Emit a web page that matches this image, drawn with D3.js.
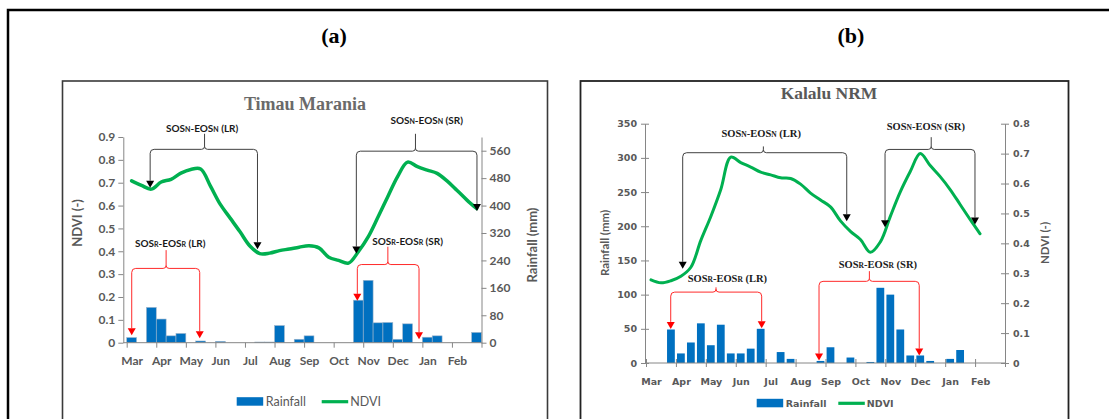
<!DOCTYPE html>
<html>
<head>
<meta charset="utf-8">
<script src="https://cdn.jsdelivr.net/npm/d3@7"></script>
<style>
  body { margin: 0; background: #fff; }
  svg { display: block; }
</style>
</head>
<body>
<svg id="chart" width="1109" height="419"></svg>
<script>
"use strict";

/* ── Data ─────────────────────────────────────────────── */
const months = ["Mar", "Apr", "May", "Jun", "Jul", "Aug", "Sep", "Oct", "Nov", "Dec", "Jan", "Feb"];

// dekadal values (3 per month, Mar..Feb)
const rainTimau = [15, 0, 103, 69, 20, 27, 0, 5, 0, 4, 0, 0,
                   0, 2, 2, 50, 0, 10, 20, 0, 0, 0, 0, 124,
                   182, 58, 59, 10, 55, 0, 16, 20, 0, 0, 0, 30];
const ndviTimau = [0.708, 0.688, 0.672, 0.703, 0.715, 0.742, 0.758, 0.76, 0.685, 0.605, 0.545, 0.485,
                   0.423, 0.39, 0.392, 0.403, 0.41, 0.418, 0.424, 0.415, 0.374, 0.36, 0.348, 0.398,
                   0.463, 0.55, 0.64, 0.728, 0.79, 0.77, 0.755, 0.741, 0.708, 0.667, 0.625, 0.587];

const rainKalalu = [0, 0, 49, 14, 30, 58, 26, 56, 14, 14, 21, 50,
                    0, 16, 6, 0, 0, 3, 23, 0, 8, 0, 1.5, 110,
                    100, 49, 11, 11, 3, 0, 6, 19, 0, 0, 0, 0];
const ndviKalalu = [0.278, 0.268, 0.275, 0.29, 0.32, 0.41, 0.49, 0.58, 0.688, 0.67, 0.655, 0.638,
                    0.629, 0.619, 0.617, 0.598, 0.568, 0.545, 0.522, 0.475, 0.44, 0.413, 0.37, 0.405,
                    0.49, 0.572, 0.64, 0.7, 0.66, 0.623, 0.58, 0.53, 0.48, 0.432];

const ndviTicksTimau = [0, 0.1, 0.2, 0.3, 0.4, 0.5, 0.6, 0.7, 0.8, 0.9];
const rainTicksTimau = [0, 80, 160, 240, 320, 400, 480, 560];
const rainTicksKalalu = [0, 50, 100, 150, 200, 250, 300, 350];
const ndviTicksKalalu = [0, 0.1, 0.2, 0.3, 0.4, 0.5, 0.6, 0.7, 0.8];

// season brackets: dekad positions (0..36) and NDVI levels
const bracketsTimau = [
  { sub: "N", season: "LR", red: false, from: 2.38, to: 13.27, mid: 7.9, level: 0.846, top: 0.914, labelX: 7.65, labelY: 0.936, tipFrom: 0.678, tipTo: 0.409 },
  { sub: "N", season: "SR", red: false, from: 23.3, to: 35.54, mid: 29.3, level: 0.838, top: 0.914, labelX: 30.44, labelY: 0.972, tipFrom: 0.39, tipTo: 0.576 },
  { sub: "R", season: "LR", red: true, from: 0.51, to: 7.41, mid: 4.0, level: 0.325, top: 0.405, labelX: 4.42, labelY: 0.434, tipFrom: 0.033, tipTo: 0.019 },
  { sub: "R", season: "SR", red: true, from: 23.4, to: 29.66, mid: 26.5, level: 0.342, top: 0.42, labelX: 28.5, labelY: 0.444, tipFrom: 0.183, tipTo: 0.015 }
];
const bracketsKalalu = [
  { sub: "N", season: "LR", red: false, from: 3.68, to: 20.13, mid: 11.77, level: 0.703, top: 0.724, labelX: 11.55, labelY: 0.767, tipFrom: 0.315, tipTo: 0.474 },
  { sub: "N", season: "SR", red: false, from: 23.97, to: 32.99, mid: 28.6, level: 0.714, top: 0.755, labelX: 28.06, labelY: 0.791, tipFrom: 0.454, tipTo: 0.463 },
  { sub: "R", season: "LR", red: true, from: 2.48, to: 11.6, mid: 7.02, level: 0.237, top: 0.253, labelX: 8.16, labelY: 0.282, tipFrom: 0.114, tipTo: 0.116 },
  { sub: "R", season: "SR", red: true, from: 17.35, to: 27.4, mid: 22.4, level: 0.273, top: 0.307, labelX: 23.25, labelY: 0.329, tipFrom: 0.008, tipTo: 0.025 }
];

/* ── Styles ───────────────────────────────────────────── */
const GREY = "#595959";
const AXIS = "#868686";
const BLUE = "#0070c0";
const GREEN = "#00b050";
const RED = "#ff2a2a";

const svg = d3.select("#chart");

/* ── Frame + panel letters ────────────────────────────── */
svg.append("rect")
  .attr("x", 8).attr("y", 10).attr("width", 1140).attr("height", 450)
  .attr("fill", "none").attr("stroke", "#000").attr("stroke-width", 2.5);

[["(a)", 334], ["(b)", 851]].forEach(([t, cx]) => {
  svg.append("text")
    .attr("x", cx).attr("y", 43)
    .attr("text-anchor", "middle")
    .attr("font-family", "Liberation Serif, serif")
    .attr("font-weight", "bold").attr("font-size", 22)
    .text(t);
});

svg.append("rect").attr("x", 62.5).attr("y", 81).attr("width", 485).attr("height", 380)
  .attr("fill", "none").attr("stroke", "#3a3a3a").attr("stroke-width", 1.6);
svg.append("rect").attr("x", 580.5).attr("y", 81).attr("width", 488).attr("height", 380)
  .attr("fill", "none").attr("stroke", "#222").attr("stroke-width", 1.8);

/* ── Panel drawing ────────────────────────────────────── */
function drawPanel(p) {
  const g = svg.append("g");

  const x = d3.scaleLinear().domain([0, 36]).range([p.x0, p.x1]);
  const band = d3.scaleBand().domain(d3.range(36)).range([p.x0, p.x1])
    .paddingInner(p.barPad).paddingOuter(p.barPad / 2);
  const yRain = d3.scaleLinear().domain([0, p.rainMax]).range([p.yBottom, p.yTop]);
  const yNdvi = d3.scaleLinear().domain([0, p.ndviMax]).range([p.yBottom, p.yTop]);

  const leftScale = p.leftIsNdvi ? yNdvi : yRain;
  const rightScale = p.leftIsNdvi ? yRain : yNdvi;

  /* Title */
  g.append("text")
    .attr("x", p.titleX).attr("y", p.titleY)
    .attr("text-anchor", "middle")
    .attr("font-family", "Liberation Serif, serif")
    .attr("font-weight", "bold").attr("font-size", p.titleSize)
    .attr("fill", p.titleColor)
    .text(p.title);

  /* Bars */
  g.append("g").selectAll("rect")
    .data(p.rain)
    .join("rect")
    .attr("x", (d, i) => band(i))
    .attr("width", band.bandwidth())
    .attr("y", (d) => yRain(d))
    .attr("height", (d) => p.yBottom - yRain(d))
    .attr("fill", BLUE)
    .attr("stroke", p.barStroke)
    .attr("stroke-width", p.barStroke === "none" ? 0 : 0.6);

  /* Axes */
  const styleAxis = (sel, font) => {
    sel.select(".domain").attr("stroke", AXIS);
    sel.selectAll(".tick line").attr("stroke", AXIS);
    sel.selectAll(".tick text")
      .attr("fill", GREY)
      .attr("font-family", font.family)
      .attr("font-weight", font.weight)
      .attr("font-size", font.size);
  };

  const leftAx = g.append("g")
    .attr("transform", `translate(${p.axisLeftX},0)`)
    .call(d3.axisLeft(leftScale).tickValues(p.leftTicks).tickFormat(p.leftFmt)
      .tickSizeInner(p.tick).tickSizeOuter(0).tickPadding(p.tickPad));
  styleAxis(leftAx, p.tickFont);

  const rightAx = g.append("g")
    .attr("transform", `translate(${p.x1},0)`)
    .call(d3.axisRight(rightScale).tickValues(p.rightTicks).tickFormat(p.rightFmt)
      .tickSizeInner(p.tick).tickSizeOuter(0).tickPadding(p.tickPad));
  styleAxis(rightAx, p.tickFont);

  // month boundary ticks
  const bottomAx = g.append("g")
    .attr("transform", `translate(0,${p.yBottom})`)
    .call(d3.axisBottom(x).tickValues(d3.range(0, 37, 3)).tickFormat("")
      .tickSizeInner(p.tick).tickSizeOuter(0));
  bottomAx.select(".domain").remove();
  bottomAx.selectAll(".tick line").attr("stroke", AXIS);

  // month labels at first dekad of each month
  const labelAx = g.append("g")
    .attr("transform", `translate(0,${p.yBottom})`)
    .call(d3.axisBottom(x).tickValues(months.map((m, i) => i * 3 + 0.5))
      .tickFormat((d, i) => months[i]).tickSize(0).tickPadding(p.monthPad));
  labelAx.select(".domain").remove();
  styleAxis(labelAx, p.tickFont);

  if (p.crossTicks) {
    leftAx.selectAll(".tick line").attr("x1", p.tick);
    rightAx.selectAll(".tick line").attr("x1", -p.tick);
    bottomAx.selectAll(".tick line").attr("y1", -p.tick);
  }

  g.append("line")
    .attr("x1", p.axisLeftX).attr("x2", p.x1)
    .attr("y1", p.yBottom).attr("y2", p.yBottom)
    .attr("stroke", AXIS);

  /* Axis titles */
  const axisTitle = (cx, cy, text) => g.append("text")
    .attr("transform", `translate(${cx},${cy}) rotate(-90)`)
    .attr("text-anchor", "middle").attr("dy", "0.35em")
    .attr("font-family", p.axisFont.family)
    .attr("font-weight", p.axisFont.weight)
    .attr("font-size", p.axisFont.size)
    .attr("fill", GREY)
    .text(text);
  axisTitle(p.leftTitleX, p.leftTitleY, p.leftTitle);
  axisTitle(p.rightTitleX, p.rightTitleY, p.rightTitle);

  /* NDVI line */
  const line = d3.line()
    .x((d, i) => x(i + 0.5))
    .y((d) => yNdvi(d))
    .curve(d3.curveCatmullRom.alpha(0.5));
  g.append("path")
    .datum(p.ndvi)
    .attr("d", line)
    .attr("fill", "none")
    .attr("stroke", GREEN)
    .attr("stroke-width", p.lineWidth)
    .attr("stroke-linejoin", "round")
    .attr("stroke-linecap", "round");

  /* Brackets */
  p.brackets.forEach((b) => drawBracket(g, b, x, yNdvi, p.annFont));

  /* Legend */
  const L = p.legend;
  g.append("rect")
    .attr("x", L.x).attr("y", L.y - 4.5).attr("width", 26.5).attr("height", 8.5)
    .attr("fill", BLUE);
  g.append("text")
    .attr("x", L.x + 29).attr("y", L.y).attr("dy", "0.35em")
    .attr("font-family", L.font.family).attr("font-weight", L.font.weight)
    .attr("font-size", L.font.size).attr("fill", GREY)
    .text("Rainfall");
  g.append("line")
    .attr("x1", L.lineX).attr("x2", L.lineX + 26.5)
    .attr("y1", L.y).attr("y2", L.y)
    .attr("stroke", GREEN).attr("stroke-width", 3.2);
  g.append("text")
    .attr("x", L.lineX + 28.5).attr("y", L.y).attr("dy", "0.35em")
    .attr("font-family", L.font.family).attr("font-weight", L.font.weight)
    .attr("font-size", L.font.size).attr("fill", GREY)
    .text("NDVI");
}

function drawBracket(g, b, x, y, font) {
  const col = b.red ? RED : "#404040";
  const xL = x(b.from), xR = x(b.to), xM = x(b.mid);
  const yH = y(b.level), yT = y(b.top);
  const tL = y(b.tipFrom), tR = y(b.tipTo);
  const r = 4, ah = 7, aw = 4;

  const d = [
    `M${xL},${tL - ah}`,
    `L${xL},${yH + r}`,
    `Q${xL},${yH} ${xL + r},${yH}`,
    `L${xM - 3},${yH}`,
    `Q${xM},${yH} ${xM},${yH - 3}`,
    `L${xM},${yT}`,
    `M${xM},${yH - 3}`,
    `Q${xM},${yH} ${xM + 3},${yH}`,
    `L${xR - r},${yH}`,
    `Q${xR},${yH} ${xR},${yH + r}`,
    `L${xR},${tR - ah}`
  ].join(" ");

  g.append("path").attr("d", d)
    .attr("fill", "none").attr("stroke", col).attr("stroke-width", 1);

  [[xL, tL], [xR, tR]].forEach(([ax, ay]) => {
    g.append("path")
      .attr("d", `M${ax - aw},${ay - ah} L${ax + aw},${ay - ah} L${ax},${ay} Z`)
      .attr("fill", b.red ? "#ff0000" : "#000");
  });

  const t = g.append("text")
    .attr("x", x(b.labelX)).attr("y", y(b.labelY)).attr("dy", "0.35em")
    .attr("text-anchor", "middle")
    .attr("font-family", font.family).attr("font-weight", "bold")
    .attr("font-size", font.size).attr("fill", "#1a1a1a");
  [["SOS", false], [b.sub, true], ["-EOS", false], [b.sub, true], [` (${b.season})`, false]]
    .forEach(([s, small]) => {
      t.append("tspan").attr("font-size", small ? font.small : font.size).text(s);
    });
}

/* ── Panel (a) Timau Marania ─────────────────────────── */
drawPanel({
  title: "Timau Marania", titleX: 305, titleY: 110, titleSize: 18, titleColor: "#6a6a6a",
  x0: 126.7, x1: 481.5, axisLeftX: 123.3, yTop: 137, yBottom: 342.7,
  rainMax: 600, ndviMax: 0.9, leftIsNdvi: true,
  rain: rainTimau, ndvi: ndviTimau, barPad: 0, barStroke: "#9fb6cc",
  leftTicks: ndviTicksTimau, leftFmt: (d) => (d === 0 ? "0" : d3.format(".1f")(d)),
  rightTicks: rainTicksTimau, rightFmt: d3.format("d"),
  tick: 5, tickPad: 3, monthPad: 14, crossTicks: false,
  tickFont: { family: "Lato, sans-serif", weight: "bold", size: 12 },
  axisFont: { family: "Lato, sans-serif", weight: "bold", size: 13 },
  leftTitle: "NDVI (-)", leftTitleX: 77, leftTitleY: 223,
  rightTitle: "Rainfall (mm)", rightTitleX: 532, rightTitleY: 245,
  lineWidth: 3.5,
  brackets: bracketsTimau,
  annFont: { family: "Lato, sans-serif", size: 10, small: 7 },
  legend: { x: 236.7, y: 401.7, lineX: 321.7, font: { family: "Lato, sans-serif", weight: "normal", size: 12.5 } }
});

/* ── Panel (b) Kalalu NRM ────────────────────────────── */
drawPanel({
  title: "Kalalu NRM", titleX: 829, titleY: 99, titleSize: 17.5, titleColor: "#595959",
  x0: 646, x1: 1005, axisLeftX: 645, yTop: 123.7, yBottom: 363,
  rainMax: 350, ndviMax: 0.8, leftIsNdvi: false,
  rain: rainKalalu, ndvi: ndviKalalu, barPad: 0.22, barStroke: "none",
  leftTicks: rainTicksKalalu, leftFmt: d3.format("d"),
  rightTicks: ndviTicksKalalu, rightFmt: (d) => (d === 0 ? "0" : d3.format(".1f")(d)),
  tick: 4, tickPad: 4, monthPad: 15, crossTicks: true,
  tickFont: { family: "DejaVu Sans, sans-serif", weight: "bold", size: 9.5 },
  axisFont: { family: "Lato, sans-serif", weight: "bold", size: 11.5 },
  leftTitle: "Rainfall (mm)", leftTitleX: 605, leftTitleY: 243,
  rightTitle: "NDVI (-)", rightTitleX: 1045, rightTitleY: 243,
  lineWidth: 3,
  brackets: bracketsKalalu,
  annFont: { family: "Liberation Serif, serif", size: 10.5, small: 7.5 },
  legend: { x: 756.7, y: 403.3, lineX: 838.3, font: { family: "DejaVu Sans, sans-serif", weight: "bold", size: 9.5 } }
});
</script>
</body>
</html>
